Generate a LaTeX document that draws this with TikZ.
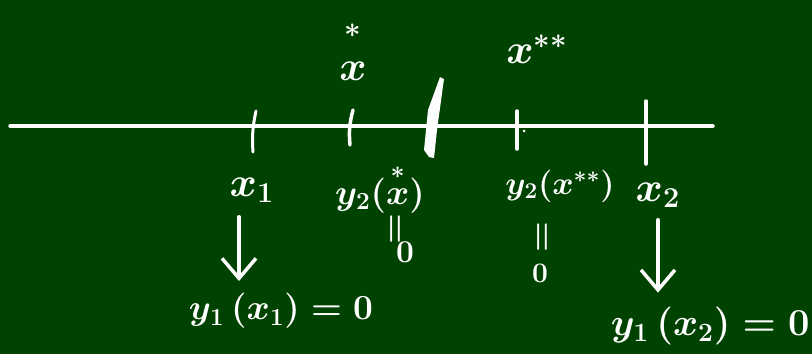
\documentclass[tikz,border=0pt]{standalone}
\usepackage{amsmath}
\usetikzlibrary{arrows.meta,calc}
\definecolor{board}{RGB}{0,66,0}
\begin{document}
\begin{tikzpicture}[x=1pt,y=-1pt,
  chalk/.style={white, line width=3.5pt, line cap=round, line join=round},
  lab/.style={text=white, inner sep=0pt, font=\huge\boldmath, scale=1.7},
  varlab/.style={text=white, inner sep=0pt, font=\huge\boldmath, scale=2.0},
  biglab/.style={text=white, inner sep=0pt, font=\huge\boldmath, scale=1.7},
  barb/.style={-{Straight Barb[length=20pt,width=34pt,line width=3.5pt]}}]
\fill[board] (0,0) rectangle (812,354);
\useasboundingbox (0,0) rectangle (812,354);
% axis
\coordinate (L) at (10,126);
\coordinate (R) at (713,126);
\draw[chalk] (L) -- (R);
% ticks
\coordinate (t1a) at (256,111); \coordinate (t1b) at (253,152);
\draw[chalk, line width=3pt] (t1a) to[bend right=8] (t1b);
\coordinate (t2a) at (353,110); \coordinate (t2b) at (350,145);
\draw[chalk] (t2a) to[bend right=10] (t2b);
\coordinate (t4a) at (517,111); \coordinate (t4b) at (517,149);
\draw[chalk] (t4a) -- (t4b);
\fill[white] (524,131) circle (1.5pt);
\coordinate (t5a) at (646,101); \coordinate (t5b) at (646,164);
\draw[chalk] (t5a) -- (t5b);
% thick mark
\fill[white] (440,77) -- (444,79) -- (437,130) -- (434,158) -- (429,157) -- (424,150) -- (428,110) -- cycle;
% upper labels
\node[varlab] (xs) at (353,50) {$\overset{\raisebox{8pt}{$\scriptstyle *$}}{x}$};
\node[varlab] (xss) at (537,49) {$x^{**}$};
% lower labels
\node[varlab] (x1lab) at (252,190) {$x_1$};
\node[lab] (y2a) at (380,188) {$y_2(\overset{\raisebox{2pt}{$\scriptstyle *$}}{x})$};
\node[lab, rotate=90] (eqa) at (397,229) {$=$};
\node[lab, scale=0.9] (zeroa) at (405,252) {$0$};
\node[lab, scale=0.92] (y2b) at (560,186) {$y_2(x^{**})$};
\node[lab, rotate=90] (eqb) at (544,237) {$=$};
\node[lab, scale=0.8] (zerob) at (540,273) {$0$};
\node[varlab] (x2lab) at (658,195) {$x_2$};
\node[biglab] (y1a) at (281,311) {$y_1\,(x_1)=0$};
\node[biglab, scale=1.08, anchor=east] (y1b) at (810,326) {$y_1\,(x_2)=0$};
% arrows
\draw[chalk, barb] ($(x1lab.south)+(-13,14)$) -- ($(x1lab.south |- y1a.north)+(-13,-12)$);
\draw[chalk, barb] ($(x2lab.south)+(0,12)$) -- ($(x2lab.south |- y1b.north)+(0,-14)$);
\end{tikzpicture}
\end{document}
